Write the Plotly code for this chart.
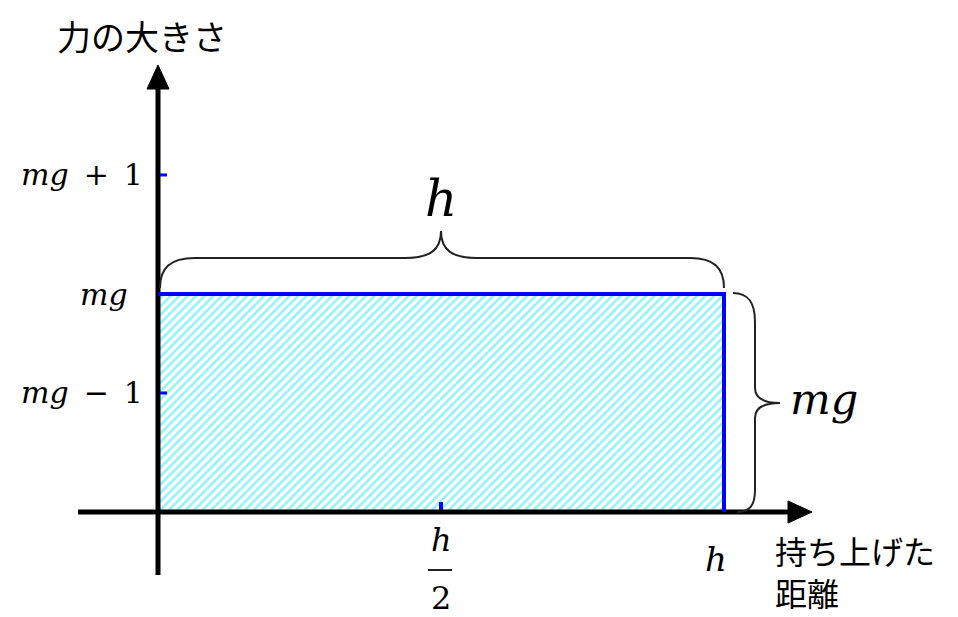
import plotly.graph_objects as go

# ---- data (diagram units: x in units of h, y in units of mg) ----
H = 1.0                     # lifted distance h
MG = 1.0                    # force mg
rect_x = [0, H, H, 0, 0]
rect_y = [0, 0, MG, MG, 0]
y_tick_vals = [0.546, 1.0, 1.546]
y_tick_text = ["<i>mg</i>\u2002−\u20021", "<i>mg</i>", "<i>mg</i>\u2002+\u20021"]
y_tick_right = [-0.023, -0.049, -0.023]
x_tick_val = 0.5            # h/2

W, HT = 958, 617
XR = [-158 / 566, 800 / 566]
YR = [-105 / 218, 512 / 218]
sx = (XR[1] - XR[0]) / W      # data per px
sy = (YR[1] - YR[0]) / HT

def X(px):
    return XR[0] + px * sx

def Y(py):
    return YR[1] - py * sy

MATH = "DejaVu Serif"
JP = "Noto Sans CJK JP"

fig = go.Figure()

# hatched area
fig.add_trace(go.Scatter(
    x=rect_x, y=rect_y, mode="lines", fill="toself", line=dict(width=0),
    fillcolor="rgba(0,0,0,0)",
    fillpattern=dict(shape="/", fgcolor="#2ee6ec", bgcolor="white", size=6, solidity=0.45),
    hoverinfo="skip", showlegend=False))

# axes
ax_x0, ax_x1, ax_xtip = X(78), X(790), X(812)
ax_y0, ax_y1, ax_ytip = Y(575), Y(87), Y(65)
fig.add_trace(go.Scatter(x=[ax_x0, ax_x1], y=[0, 0], mode="lines",
                         line=dict(color="black", width=5), showlegend=False, hoverinfo="skip"))
fig.add_trace(go.Scatter(x=[0, 0], y=[ax_y0, ax_y1], mode="lines",
                         line=dict(color="black", width=5), showlegend=False, hoverinfo="skip"))
ah = 11
fig.add_trace(go.Scatter(x=[ax_x1 - 2 * sx, ax_xtip, ax_x1 - 2 * sx, ax_x1 - 2 * sx],
                         y=[ah * sy, 0, -ah * sy, ah * sy], mode="lines", fill="toself",
                         fillcolor="black", line=dict(color="black", width=1),
                         showlegend=False, hoverinfo="skip"))
fig.add_trace(go.Scatter(x=[-ah * sx, 0, ah * sx, -ah * sx],
                         y=[ax_y1 - 2 * sy, ax_ytip, ax_y1 - 2 * sy, ax_y1 - 2 * sy], mode="lines",
                         fill="toself", fillcolor="black", line=dict(color="black", width=1),
                         showlegend=False, hoverinfo="skip"))

# blue border of the work area
fig.add_trace(go.Scatter(x=[0, H, H], y=[MG, MG, 0], mode="lines",
                         line=dict(color="#0000ff", width=4), showlegend=False, hoverinfo="skip"))

# blue tick marks
for v in y_tick_vals:
    fig.add_trace(go.Scatter(x=[2 * sx, 9 * sx], y=[v, v], mode="lines",
                             line=dict(color="#0000ff", width=3), showlegend=False, hoverinfo="skip"))
fig.add_trace(go.Scatter(x=[x_tick_val, x_tick_val], y=[2 * sy, 10 * sy], mode="lines",
                         line=dict(color="#0000ff", width=4), showlegend=False, hoverinfo="skip"))

# braces (pixel-based path converted to data coordinates)
def path(cmds):
    out = []
    for c in cmds:
        if isinstance(c, str):
            out.append(c)
        else:
            out.append(f"{X(c[0]):.5f},{Y(c[1]):.5f}")
    return " ".join(out)

top_brace = path(["M", (160, 288), "C", (160, 268), (170, 258), (195, 258),
                  "L", (405, 258), "C", (430, 258), (441, 250), (441, 231),
                  "C", (441, 250), (452, 258), (477, 258),
                  "L", (690, 258), "C", (714, 258), (724, 268), (724, 288)])
right_brace = path(["M", (733, 293), "C", (748, 293), (755, 302), (755, 322),
                    "L", (755, 388), "C", (755, 398), (764, 403), (780, 403),
                    "C", (764, 403), (755, 408), (755, 418),
                    "L", (755, 490), "C", (755, 505), (750, 512), (737, 512)])
for p in (top_brace, right_brace):
    fig.add_shape(type="path", path=p, xref="x", yref="y",
                  line=dict(color="#222222", width=2))

# h/2 fraction bar
fig.add_shape(type="line", x0=X(428), x1=X(452), y0=Y(570), y1=Y(570),
              xref="x", yref="y", line=dict(color="#222222", width=2))

ann = []
for v, t, xr in zip(y_tick_vals, y_tick_text, y_tick_right):
    ann.append(dict(x=xr, y=v, text=t, xanchor="right", yanchor="middle",
                    font=dict(family=MATH, size=30, color="black")))
ann += [
    dict(x=X(142), y=Y(35), text="力の大きさ", xanchor="center", yanchor="middle",
         font=dict(family=JP, size=34, color="black")),
    dict(x=H / 2, y=Y(199), text="<i>h</i>", xanchor="center", yanchor="middle",
         font=dict(family=MATH, size=50, color="black")),
    dict(x=X(788), y=Y(399), text="<i>mg</i>", xanchor="left", yanchor="middle",
         font=dict(family=MATH, size=43, color="black")),
    dict(x=x_tick_val, y=Y(540), text="<i>h</i>", xanchor="center", yanchor="middle",
         font=dict(family=MATH, size=32, color="black")),
    dict(x=x_tick_val, y=Y(598), text="2", xanchor="center", yanchor="middle",
         font=dict(family=MATH, size=32, color="black")),
    dict(x=X(716), y=Y(559), text="<i>h</i>", xanchor="center", yanchor="middle",
         font=dict(family=MATH, size=34, color="black")),
    dict(x=X(774), y=Y(616), text="持ち上げた<br>距離", xanchor="left", yanchor="bottom",
         align="left", borderpad=0,
         font=dict(family=JP, size=32, color="black")),
]
for a in ann:
    a.update(xref="x", yref="y", showarrow=False)

fig.update_layout(
    width=W, height=HT, margin=dict(l=0, r=0, t=0, b=0),
    paper_bgcolor="white", plot_bgcolor="white",
    xaxis=dict(range=XR, visible=False, fixedrange=True),
    yaxis=dict(range=YR, visible=False, fixedrange=True),
    annotations=ann, showlegend=False,
)
fig.write_html("out.html", config={"displayModeBar": False},
               post_script="document.body.style.margin='0px';document.body.style.overflow='hidden';")
